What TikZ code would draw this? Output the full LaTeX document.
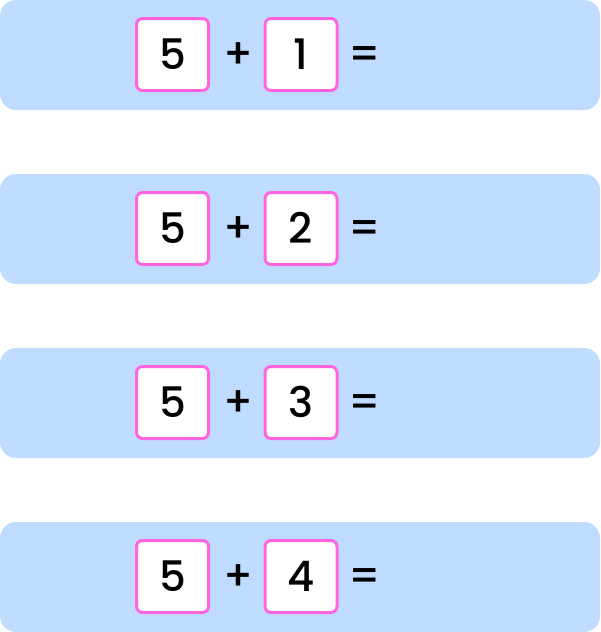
\documentclass[tikz,border=0pt]{standalone}
\usepackage{fontspec}
\setmainfont{Poppins}[UprightFont=* Medium]
\definecolor{band}{HTML}{BFDBFE}
\definecolor{pinkb}{HTML}{FF66DD}
\tikzset{
  bandbox/.style={fill=band, draw=none, rounded corners=16pt},
  numbox/.style={draw=pinkb, line width=3pt, fill=white, rounded corners=6pt, minimum width=72pt, minimum height=72pt, inner sep=0pt},
  txt/.style={inner sep=0pt, anchor=base, font=\fontsize{42}{42}\selectfont}
}
\begin{document}
\begin{tikzpicture}[x=1pt,y=-1pt]
\useasboundingbox (0,0) rectangle (600,632);
\foreach \i/\n in {0/1,1/2,2/3,3/4}{
  \pgfmathsetmacro{\top}{\i*174}
  \fill[bandbox] (0,\top) rectangle (600,\top+110);
  \node[numbox] (a\n) at (172.5,\top+54.5) {};
  \node[numbox] (b\n) at (301,\top+54.5) {};
  \node[txt] (ta\n) at (a\n.center) [yshift=-14.5pt] {5};
  \node[txt] (p\n) at (238,\top+68.5) {+};
  \node[txt] (tb\n) at (b\n.center) [yshift=-14.5pt] {\n};
  \node[txt] (e\n) at (365,\top+68.5) {=};
}
\end{tikzpicture}
\end{document}
